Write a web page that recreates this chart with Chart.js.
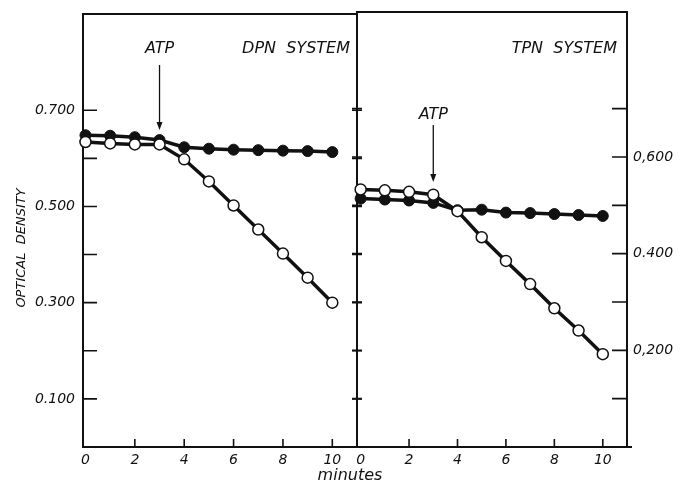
<!DOCTYPE html>
<html>
<head>
<meta charset="utf-8">
<script src="https://cdn.jsdelivr.net/npm/chart.js@4.4.1/dist/chart.umd.min.js"></script>
<style>
    html, body { margin: 0; padding: 0; background: #ffffff; }
    #wrap { position: relative; width: 687px; height: 484px; }
    #wrap canvas { position: absolute; left: 0; top: 0; }
</style>
</head>
<body>
<div id="wrap">
    <canvas id="dpn" width="687" height="484"></canvas>
    <canvas id="tpn" width="687" height="484"></canvas>
</div>
<script>
// minutes after start; ATP added at 3 min
const minutes = [0, 1, 2, 3, 4, 5, 6, 7, 8, 9, 10];
const atpTime = 3;

// DPN system (left axis)
const dpnFilled = [0.648, 0.647, 0.644, 0.638, 0.623, 0.620, 0.618, 0.617, 0.616, 0.615, 0.613];
const dpnOpen = [0.634, 0.631, 0.629, 0.629, 0.598, 0.552, 0.502, 0.452, 0.402, 0.352, 0.300];

// TPN system (right axis)
const tpnFilled = [0.514, 0.512, 0.510, 0.505, 0.490, 0.491, 0.485, 0.484, 0.482, 0.480, 0.478];
const tpnOpen = [0.533, 0.531, 0.528, 0.522, 0.488, 0.434, 0.385, 0.337, 0.287, 0.241, 0.192];

const xTickValues = [0, 2, 4, 6, 8, 10];
const yMarkValues = [0.1, 0.2, 0.3, 0.4, 0.5, 0.6, 0.7];
const leftTickValues = [0.1, 0.3, 0.5, 0.7];
const leftTickLabels = ['0.100', '0.300', '0.500', '0.700'];
const rightTickValues = [0.2, 0.4, 0.6];
const rightTickLabels = ['0,200', '0.400', '0,600'];

const INK = '#111111';
const FONT = 'DejaVu Sans, Verdana, sans-serif';

function pts(ys) {
    return minutes.map((m, i) => ({ x: m, y: ys[i] }));
}

function labelFor(values, labels) {
    return (v) => {
        const i = values.findIndex((t) => Math.abs(t - v) < 1e-6);
        return i >= 0 ? labels[i] : '';
    };
}

function seriesSet(openYs, filledYs) {
    // open circles first so they end up on top
    return [
        {
            data: pts(openYs),
            borderColor: INK,
            borderWidth: 3.5,
            pointRadius: 5.5,
            pointBorderWidth: 1.5,
            pointBackgroundColor: '#ffffff',
            pointBorderColor: INK,
            clip: false,
        },
        {
            data: pts(filledYs),
            borderColor: INK,
            borderWidth: 3.5,
            pointRadius: 5.5,
            pointBorderWidth: 1,
            pointBackgroundColor: INK,
            pointBorderColor: INK,
            clip: false,
        },
    ];
}

// frame + inward tick marks
function framePlugin(outer) {
    return {
        id: 'frame_' + outer,
        beforeDatasetsDraw(chart) {
            const { ctx, chartArea: a, scales } = chart;
            ctx.save();
            ctx.strokeStyle = INK;
            ctx.lineWidth = 2;
            ctx.strokeRect(a.left, a.top, a.right - a.left, a.bottom - a.top);
            if (outer === 'right') {
                // bottom rule runs a little past the right axis
                ctx.beginPath();
                ctx.moveTo(a.right, a.bottom);
                ctx.lineTo(a.right + 5, a.bottom);
                ctx.stroke();
            }
            ctx.lineWidth = 1.6;
            ctx.beginPath();
            yMarkValues.forEach((v) => {
                const py = scales.y.getPixelForValue(v);
                if (outer === 'left') {
                    ctx.moveTo(a.left, py); ctx.lineTo(a.left + 14, py);
                    ctx.moveTo(a.right - 5, py); ctx.lineTo(a.right + 5, py);
                } else {
                    ctx.moveTo(a.right - 15, py); ctx.lineTo(a.right, py);
                    ctx.moveTo(a.left - 5, py); ctx.lineTo(a.left + 5, py);
                }
            });
            xTickValues.filter((v) => v > 0).forEach((v) => {
                const px = scales.x.getPixelForValue(v);
                ctx.moveTo(px, a.bottom); ctx.lineTo(px, a.bottom - 8);
            });
            ctx.stroke();
            ctx.restore();
        },
    };
}

function arrow(ctx, x, y0, y1) {
    ctx.beginPath();
    ctx.moveTo(x, y0);
    ctx.lineTo(x, y1 - 6);
    ctx.stroke();
    ctx.beginPath();
    ctx.moveTo(x - 3, y1 - 8);
    ctx.lineTo(x + 3, y1 - 8);
    ctx.lineTo(x, y1);
    ctx.closePath();
    ctx.fill();
}

function notesPlugin(o) {
    return {
        id: 'notes_' + o.system,
        afterDatasetsDraw(chart) {
            const { ctx, chartArea: a, scales } = chart;
            const ax = scales.x.getPixelForValue(atpTime);
            ctx.save();
            ctx.fillStyle = INK;
            ctx.strokeStyle = INK;
            ctx.lineWidth = 1.3;
            ctx.font = 'italic 16px ' + FONT;
            ctx.textBaseline = 'middle';
            ctx.textAlign = 'center';
            ctx.fillText('ATP', ax, o.atpY);
            arrow(ctx, ax, o.arrowFrom, o.arrowTo);
            ctx.textAlign = 'right';
            ctx.fillText(o.system, a.right - o.sysInset, 49);
            if (o.extra) o.extra(ctx);
            ctx.restore();
        },
    };
}

function baseScales(yPos, yWidth, values, labels, xMin) {
    return {
        x: {
            type: 'linear',
            min: xMin,
            max: 11,
            afterFit: (s) => { s.height = 37; },
            afterBuildTicks: (s) => { s.ticks = xTickValues.map((v) => ({ value: v })); },
            grid: { display: false, drawTicks: false },
            border: { display: false },
            ticks: {
                color: INK,
                padding: 5,
                font: { family: FONT, style: 'italic', size: 14 },
            },
        },
        y: {
            type: 'linear',
            position: yPos,
            min: 0,
            max: 0.9,
            afterFit: (s) => {
                s.width = yWidth;
                s.paddingTop = 0;
                s.paddingBottom = 0;
            },
            afterBuildTicks: (s) => { s.ticks = values.map((v) => ({ value: v })); },
            grid: { display: false, drawTicks: false },
            border: { display: false },
            ticks: {
                color: INK,
                padding: yPos === 'left' ? 8 : 6,
                font: { family: FONT, style: 'italic', size: 14 },
                callback: labelFor(values, labels),
            },
        },
    };
}

function commonOptions(padding, scales) {
    return {
        responsive: false,
        animation: false,
        devicePixelRatio: 1,
        layout: { padding },
        plugins: { legend: { display: false }, tooltip: { enabled: false } },
        elements: { line: { tension: 0 } },
        scales,
    };
}

new Chart(document.getElementById('dpn'), {
    type: 'line',
    data: { datasets: seriesSet(dpnOpen, dpnFilled) },
    options: commonOptions(
        { top: 14, right: 330, bottom: 0, left: 0 },
        baseScales('left', 83, leftTickValues, leftTickLabels, -0.1)
    ),
    plugins: [
        framePlugin('left'),
        notesPlugin({
            system: 'DPN  SYSTEM',
            atpY: 49,
            arrowFrom: 65,
            arrowTo: 130,
            sysInset: 7,
            extra(ctx) {
                ctx.textAlign = 'center';
                ctx.font = 'italic 16px ' + FONT;
                ctx.fillText('minutes', 350, 476);
                ctx.save();
                ctx.translate(22, 248);
                ctx.rotate(-Math.PI / 2);
                ctx.font = 'italic 13px ' + FONT;
                ctx.fillText('OPTICAL  DENSITY', 0, 0);
                ctx.restore();
            },
        }),
    ],
});

new Chart(document.getElementById('tpn'), {
    type: 'line',
    data: { datasets: seriesSet(tpnOpen, tpnFilled) },
    options: commonOptions(
        { top: 12, right: 0, bottom: 0, left: 357 },
        baseScales('right', 60, rightTickValues, rightTickLabels, -0.15)
    ),
    plugins: [
        framePlugin('right'),
        notesPlugin({
            system: 'TPN  SYSTEM',
            atpY: 115,
            arrowFrom: 125,
            arrowTo: 182,
            sysInset: 10,
        }),
    ],
});
</script>
</body>
</html>
